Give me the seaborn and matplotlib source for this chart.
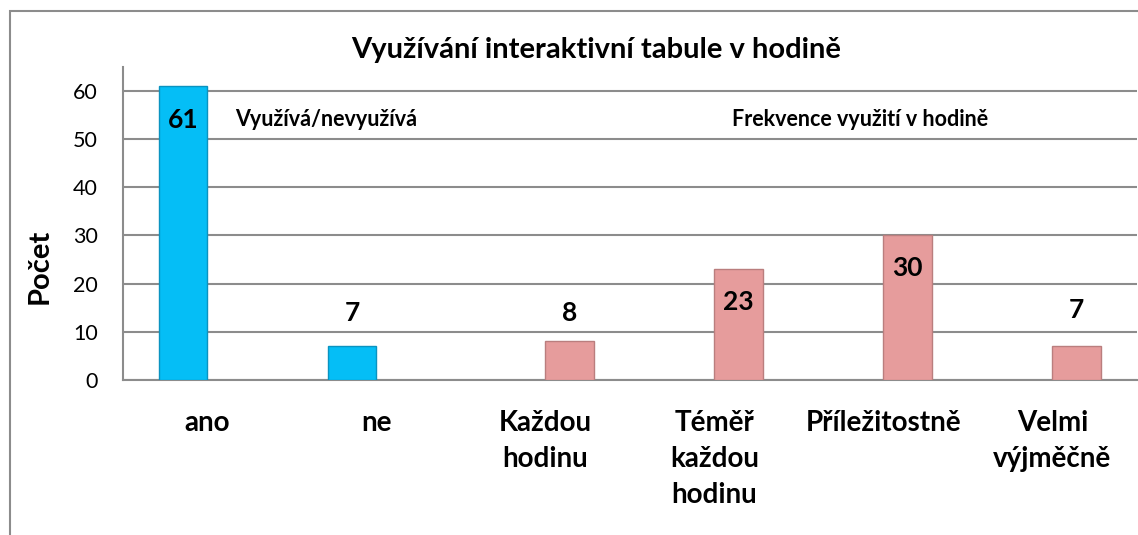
import matplotlib
matplotlib.use('Agg')
import matplotlib.pyplot as plt
import seaborn as sns
import pandas as pd
from matplotlib.patches import Rectangle
from matplotlib.ticker import FixedLocator

categories = ['ano', 'ne', 'Každou\nhodinu', 'Téměř\nkaždou\nhodinu', 'Příležitostně', 'Velmi\nvýjměčně']
counts = [61, 7, 8, 23, 30, 7]
groups = ['Využívá/nevyužívá', 'Využívá/nevyužívá',
          'Frekvence využití v hodině', 'Frekvence využití v hodině',
          'Frekvence využití v hodině', 'Frekvence využití v hodině']
group_order = ['Využívá/nevyužívá', 'Frekvence využití v hodině']
label_y = [54, 13.9, 13.9, 16.2, 23.2, 14.5]

group_colors = {'Využívá/nevyužívá': '#05BEF6', 'Frekvence využití v hodině': '#E69C9C'}
edge_colors = {'Využívá/nevyužívá': '#0A93C0', 'Frekvence využití v hodině': '#BA7E7E'}

df = pd.DataFrame({'kategorie': categories, 'pocet': counts, 'skupina': groups})

sns.set_style('white', {'text.color': 'black', 'axes.labelcolor': 'black',
                        'xtick.color': 'black', 'ytick.color': 'black'})
plt.rcParams['font.family'] = ['Lato', 'DejaVu Sans']

fig = plt.figure(figsize=(11.38, 5.35), dpi=100)
ax = fig.add_axes([0.108, 0.29, 0.891, 0.585])

sns.barplot(data=df, x='kategorie', y='pocet', hue='skupina', hue_order=group_order,
            palette=group_colors, saturation=1, dodge=True, width=0.57, legend=False,
            ax=ax, zorder=3)

bars = [b for b in ax.patches if b.get_height() > 0]
bars.sort(key=lambda b: b.get_x())
for bar, g in zip(bars, groups):
    bar.set_edgecolor(edge_colors[g])
    bar.set_linewidth(1.0)

ax.set_ylim(0, 65)
ax.set_xlim(-0.5, len(categories) - 0.5)
ax.set_yticks(range(0, 61, 10))
ax.grid(axis='y', color='#8c8c8c', linewidth=1.5, zorder=0)
ax.set_axisbelow(True)

for s in ['top', 'right']:
    ax.spines[s].set_visible(False)
for s in ['left', 'bottom']:
    ax.spines[s].set_color('#8c8c8c')
    ax.spines[s].set_linewidth(1.5)

# ticks on category boundaries, labels in the middle
ax.xaxis.set_major_locator(FixedLocator([i - 0.5 for i in range(len(categories) + 1)]))
ax.xaxis.set_major_formatter(plt.NullFormatter())
ax.xaxis.set_minor_locator(FixedLocator(list(range(len(categories)))))
ax.set_xticklabels(categories, minor=True, fontsize=20, fontweight='bold',
                   linespacing=1.47, va='top')
ax.tick_params(axis='x', which='major', length=8, width=1.5, color='#8c8c8c', direction='out')
ax.tick_params(axis='x', which='minor', length=0, pad=22, labelcolor='black')
ax.tick_params(axis='y', length=7, width=1.5, color='#8c8c8c', direction='out',
               labelsize=15.5, pad=11, labelcolor='black')
ax.set_xlabel('')
ax.set_ylabel('Počet', fontsize=21, fontweight='bold', color='black')
ax.yaxis.set_label_coords(-0.069, 0.364)

for bar, v, ly in zip(bars, counts, label_y):
    ax.text(bar.get_x() + bar.get_width() / 2, ly, str(v), ha='center', va='center',
            fontsize=19, fontweight='bold', color='black', zorder=5)

ax.text(0.7, 54, 'Využívá/nevyužívá', ha='center', va='center', fontsize=15.5,
        fontweight='bold', color='black')
ax.text(3.86, 54, 'Frekvence využití v hodině', ha='center', va='center', fontsize=15.5,
        fontweight='bold', color='black')

fig.text(0.524, 0.907, 'Využívání interaktivní tabule v hodině', ha='center', va='center',
         fontsize=21, fontweight='bold', color='black')

fig.patches.append(Rectangle((10 / 1138, -0.05), 1.2, 1 - 11 / 535 + 0.05,
                             transform=fig.transFigure, fill=False,
                             edgecolor='#8c8c8c', linewidth=1.5))

fig.savefig('out.png', dpi=100)
